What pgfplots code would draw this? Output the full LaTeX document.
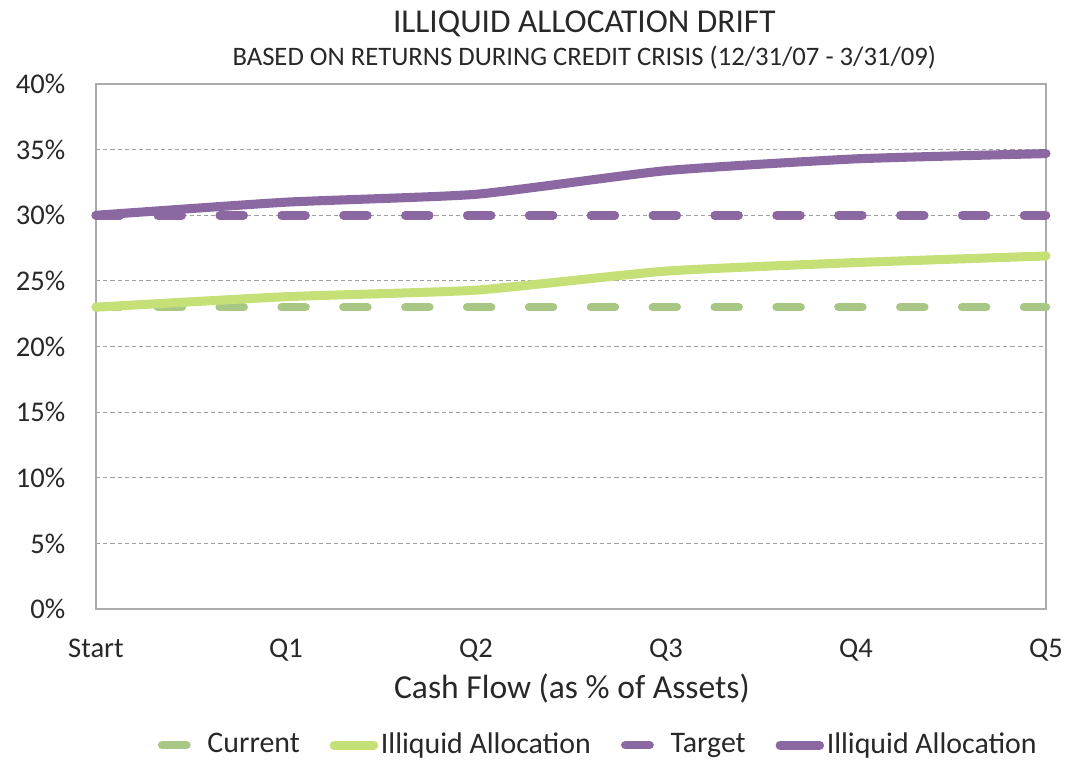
\documentclass[border=0pt]{standalone}
\usepackage{pgfplots}
\pgfplotsset{compat=1.18}
\usepackage{fontspec}
\setmainfont{Carlito}

\definecolor{purp}{RGB}{140,104,163}
\definecolor{lgreen}{RGB}{198,224,120}
\definecolor{dgreen}{RGB}{168,198,132}
\definecolor{txt}{RGB}{40,40,40}

% legend samples: one short dash for the flat targets, longer line for the drift
\pgfplotsset{
    dashleg/.style={legend image code/.code={
        \path[draw=none, fill=none] (0pt,-1pt) rectangle (17.7pt,1pt);
        \draw[##1,solid] (1.7pt,0pt) -- (10.8pt,0pt);}},
    lineleg/.style={legend image code/.code={
        \path[draw=none, fill=none] (0pt,-1pt) rectangle (17.7pt,1pt);
        \draw[##1] (1.7pt,0pt) -- (16.5pt,0pt);}},
}

\begin{document}
\begin{tikzpicture}
\begin{axis}[
    scale only axis,
    width=356.25pt, height=196.9pt,
    xmin=0, xmax=5, ymin=0, ymax=40,
    xtick={0,1,2,3,4,5},
    xticklabels={Start,Q1,Q2,Q3,Q4,Q5},
    ytick={0,5,...,40},
    yticklabel={\pgfmathprintnumber{\tick}\%},
    /pgf/number format/assume math mode=true,
    major tick length=0pt,
    ymajorgrids,
    grid style={gray!75, line width=0.4pt, dash pattern=on 1.6pt off 1.1pt},
    axis line style={gray!65, line width=0.5pt},
    tick label style={font=\fontsize{10.7}{12}\selectfont, text=txt},
    xticklabel style={yshift=-7.5pt},
    yticklabel style={xshift=-8pt},
    clip=false,
    legend columns=4,
    legend cell align=left,
    legend style={at={(0.529,-0.259)}, anchor=center, draw=none,
        font=\fontsize{11.2}{13}\selectfont, text=txt,
        nodes={inner xsep=1pt},
        /tikz/every even column/.append style={column sep=10.2pt}},
]
\addplot[dgreen, line width=3.2pt, line cap=round, dash pattern=on 9pt off 14.2pt, dashleg]
    coordinates {(0,23) (1,23) (2,23) (3,23) (4,23) (5,23)};
\addlegendentry{Current}
\addplot[lgreen, line width=3.4pt, line cap=round, smooth, tension=0.3, lineleg]
    coordinates {(0,23.0) (1,23.8) (2,24.3) (3,25.75) (4,26.4) (5,26.9)};
\addlegendentry{Illiquid Allocation}
\addplot[purp, line width=3.2pt, line cap=round, dash pattern=on 9pt off 14.2pt, dashleg]
    coordinates {(0,30) (1,30) (2,30) (3,30) (4,30) (5,30)};
\addlegendentry{Target}
\addplot[purp, line width=3.4pt, line cap=round, smooth, tension=0.3, lineleg]
    coordinates {(0,30.0) (1,31.0) (2,31.6) (3,33.4) (4,34.3) (5,34.7)};
\addlegendentry{Illiquid Allocation}

\node[anchor=base, text=txt, font=\fontsize{12.5}{14}\selectfont]
    at (rel axis cs:0.514,1.099) {ILLIQUID ALLOCATION DRIFT};
\node[anchor=base, text=txt, font=\fontsize{10}{12}\selectfont]
    at (rel axis cs:0.514,1.036) {BASED ON RETURNS DURING CREDIT CRISIS (12/31/07 - 3/31/09)};
\node[anchor=base, text=txt, font=\fontsize{12.6}{14}\selectfont]
    at (rel axis cs:0.501,-0.1695) {Cash Flow (as \% of Assets)};

\coordinate (bl) at (rel axis cs:-0.101,-0.2876);
\coordinate (tr) at (rel axis cs:1.020,1.160);
\end{axis}
\pgfresetboundingbox
\path[use as bounding box] (bl) rectangle (tr);
\end{tikzpicture}
\end{document}
